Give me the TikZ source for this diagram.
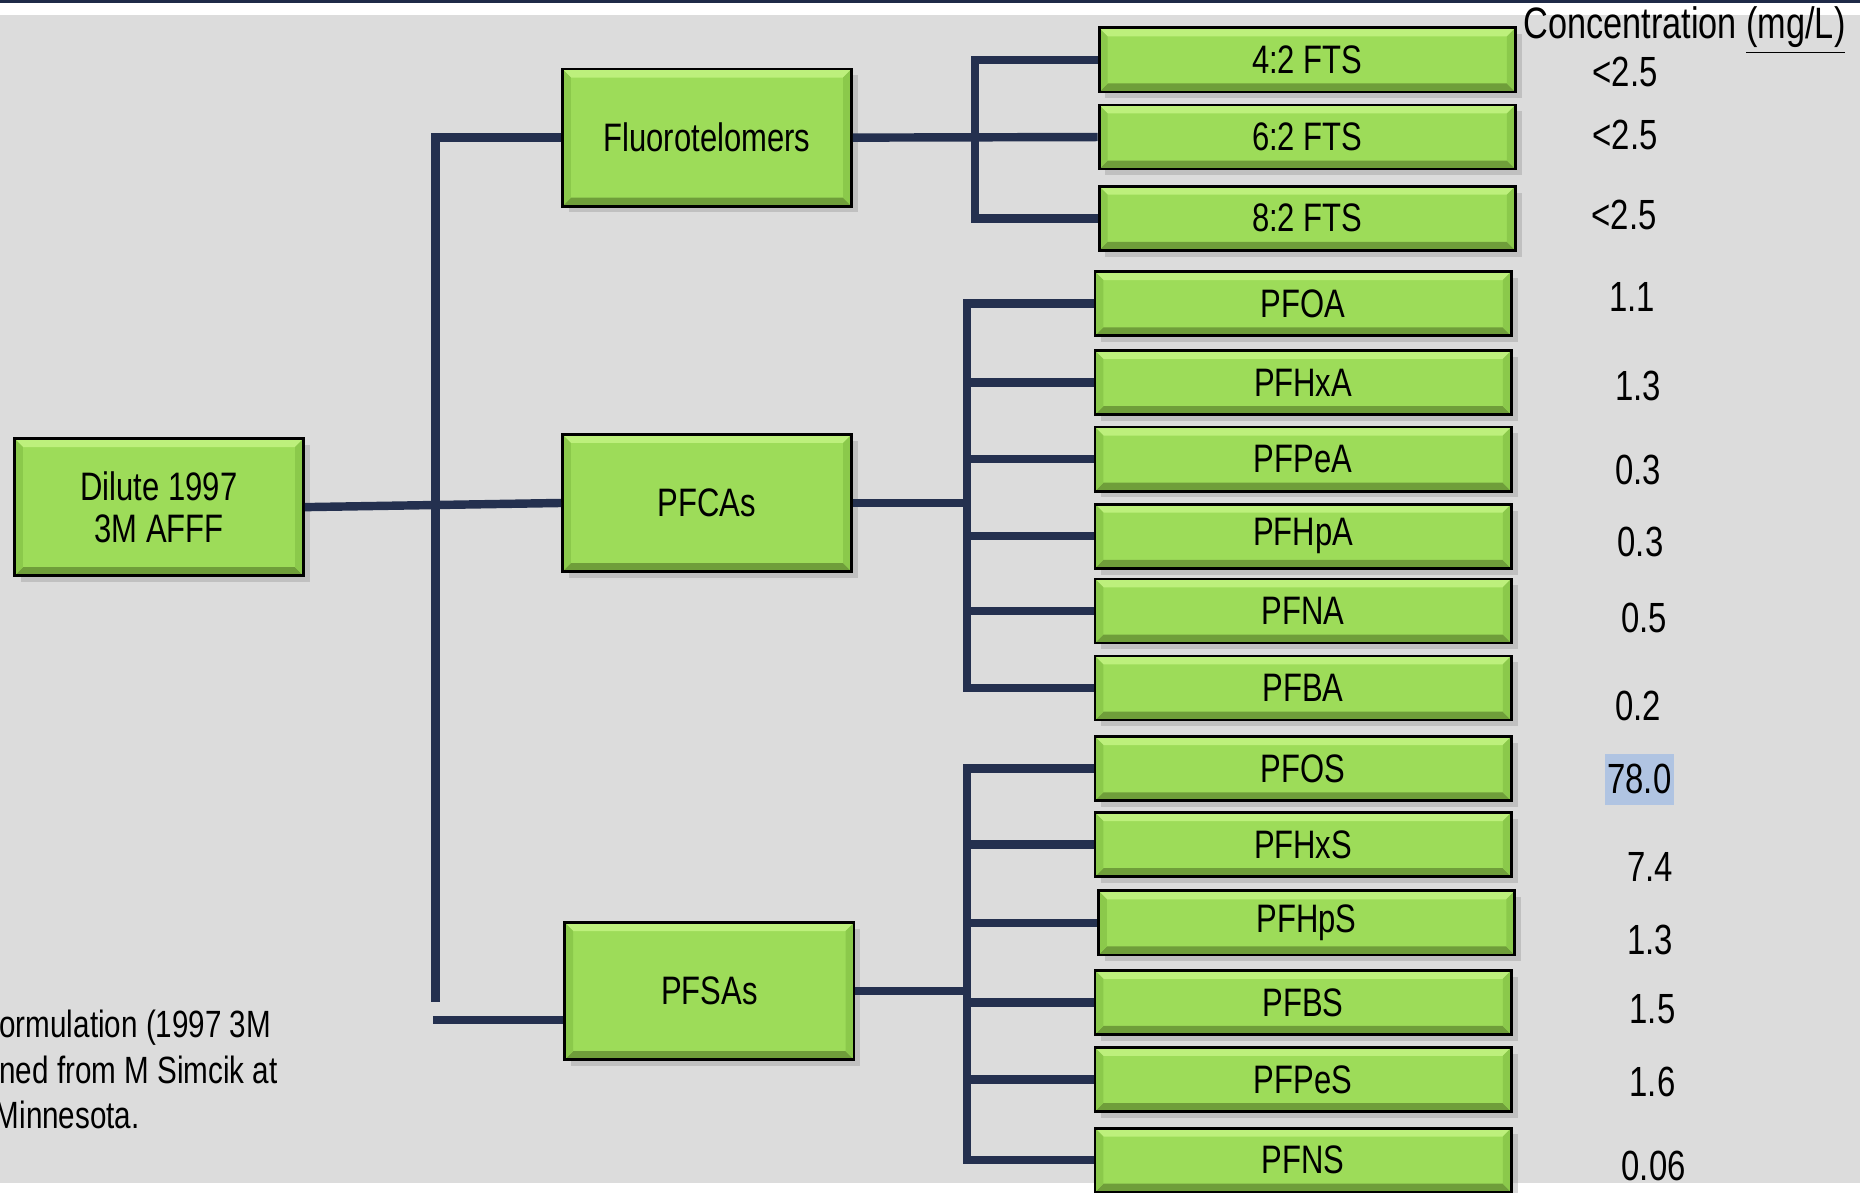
\documentclass[tikz,border=0pt]{standalone}
\usepackage{fontspec}
\setmainfont{Liberation Sans}[FakeStretch=0.78]
\usetikzlibrary{shadows}

\definecolor{bggray}{HTML}{DCDCDC}
\definecolor{navy}{HTML}{24304F}
\definecolor{topbar}{HTML}{1F2A48}
\definecolor{boxgreen}{HTML}{9DDC59}
\definecolor{bevlight}{HTML}{BDF07C}
\definecolor{bevdark}{HTML}{6F9E3A}
\definecolor{bevside}{HTML}{8BC94B}
\definecolor{hlblue}{HTML}{B0C4E2}

\newcommand{\bev}{2.4pt}

\tikzset{
  chembox/.style={draw=black, line width=0.8pt, fill=boxgreen, inner sep=0pt,
    font=\fontsize{11.3}{11.8}\selectfont, align=center,
    drop shadow={shadow xshift=1.8pt, shadow yshift=-1.8pt, opacity=0.3},
    path picture={
      \fill[bevlight] (path picture bounding box.north west) -- (path picture bounding box.north east)
        -- ([shift={(-\bev,-\bev)}]path picture bounding box.north east)
        -- ([shift={(\bev,-\bev)}]path picture bounding box.north west) -- cycle;
      \fill[bevdark] (path picture bounding box.south west) -- (path picture bounding box.south east)
        -- ([shift={(-\bev,\bev)}]path picture bounding box.south east)
        -- ([shift={(\bev,\bev)}]path picture bounding box.south west) -- cycle;
      \fill[bevside] (path picture bounding box.north west) -- ([shift={(\bev,-\bev)}]path picture bounding box.north west)
        -- ([shift={(\bev,\bev)}]path picture bounding box.south west) -- (path picture bounding box.south west) -- cycle;
      \fill[bevside] (path picture bounding box.north east) -- ([shift={(-\bev,-\bev)}]path picture bounding box.north east)
        -- ([shift={(-\bev,\bev)}]path picture bounding box.south east) -- (path picture bounding box.south east) -- cycle;
    }},
  groupbox/.style={chembox, minimum width=2.89cm, minimum height=1.37cm},
  leafbox/.style={chembox, minimum width=4.16cm, minimum height=0.64cm},
  link/.style={draw=navy, line width=2.4pt},
  conc/.style={font=\fontsize{12}{14}\selectfont, inner sep=1pt},
  note/.style={font=\fontsize{10.8}{13}\selectfont, anchor=base west, inner sep=0pt},
}

\begin{document}
\begin{tikzpicture}[x=0.01186cm, y=-0.01186cm]
  \useasboundingbox (0,0) rectangle (1568,1005);

  % Background
  \fill[white] (0,0) rectangle (1568,1005);
  \fill[bggray] (0,12.6) rectangle (1568,997);
  \fill[topbar] (0,0) rectangle (1568,2.8);

  % Source and groups
  \node[groupbox] (dilute) at (134,427.5) {Dilute 1997\\3M AFFF};
  \node[groupbox] (fluoro) at (596,116) {Fluorotelomers};
  \node[groupbox] (pfcas) at (596,424) {PFCAs};
  \node[groupbox] (pfsas) at (598,835.5) {PFSAs};

  % Compounds
  \foreach \n/\t/\x/\y in {fts4/4:2 FTS/1102/50.5, fts6/6:2 FTS/1102/115.5, fts8/8:2 FTS/1102/184,
      pfoa/PFOA/1098.5/256, pfhxa/PFHxA/1098.5/322.5, pfpea/PFPeA/1098.5/387,
      pfhpa/PFHpA/1098.5/452, pfna/PFNA/1098.5/515, pfba/PFBA/1098.5/580,
      pfos/PFOS/1098.5/648, pfhxs/PFHxS/1098.5/712, pfhps/PFHpS/1101.5/778,
      pfbs/PFBS/1098.5/845, pfpes/PFPeS/1098.5/910, pfns/PFNS/1098.5/978} {
    \node[leafbox] (\n) at (\x,\y) {\t};
  }

  % Trunk
  \coordinate (trunkend) at (367,845);
  \coordinate (safork) at (365,860);
  \draw[link] (dilute.east) -- (pfcas.west);
  \draw[link] (fluoro.west) -| (trunkend);
  \draw[link] (safork) -- (pfsas.west |- safork);

  % Fluorotelomer branches
  \coordinate (ftbus) at (822,0);
  \draw[link] (fluoro.east) -- (fts6.west);
  \draw[link] (fts4.west) -| (ftbus |- fts8.west) -- (fts8.west);

  % PFCA branches
  \coordinate (cabus) at (815,0);
  \draw[link] (pfcas.east) -- (pfcas.east -| cabus);
  \draw[link] (pfoa.west) -| (cabus |- pfba.west) -- (pfba.west);
  \foreach \n in {pfhxa, pfpea, pfhpa, pfna}
    \draw[link] (cabus |- \n.west) -- (\n.west);

  % PFSA branches
  \coordinate (sabus) at (815,0);
  \draw[link] (pfsas.east) -- (pfsas.east -| sabus);
  \draw[link] (pfos.west) -| (sabus |- pfns.west) -- (pfns.west);
  \foreach \n in {pfhxs, pfhps, pfbs, pfpes}
    \draw[link] (sabus |- \n.west) -- (\n.west);

  % Concentrations
  \node[font=\fontsize{12.5}{14}\selectfont, inner sep=0pt] (conchead) at (1420,26) {Concentration \underline{(mg/L)}};
  \foreach \n/\v/\x/\y in {fts4/<2.5/1370/61, fts6/<2.5/1370/114, fts8/<2.5/1369/181,
      pfoa/1.1/1376/250, pfhxa/1.3/1381/325, pfpea/0.3/1381/396, pfhpa/0.3/1383/457,
      pfna/0.5/1386/521, pfba/0.2/1381/595, pfhxs/7.4/1391/731, pfhps/1.3/1391/792,
      pfbs/1.5/1393/851, pfpes/1.6/1393/912, pfns/0.06/1394/983} {
    \node[conc] (v-\n) at (\x,\y) {\v};
  }
  \node[conc, fill=hlblue, inner xsep=0.6pt, inner ysep=3pt] (v-pfos) at (1382,657) {78.0};

  % Note (cut off at the left edge)
  \node[note] (note1) at (-1,875) {ormulation (1997 3M};
  \node[note] (note2) at (-1,913) {ned from M Simcik at};
  \node[note] (note3) at (-5,951) {Minnesota.};
\end{tikzpicture}
\end{document}
